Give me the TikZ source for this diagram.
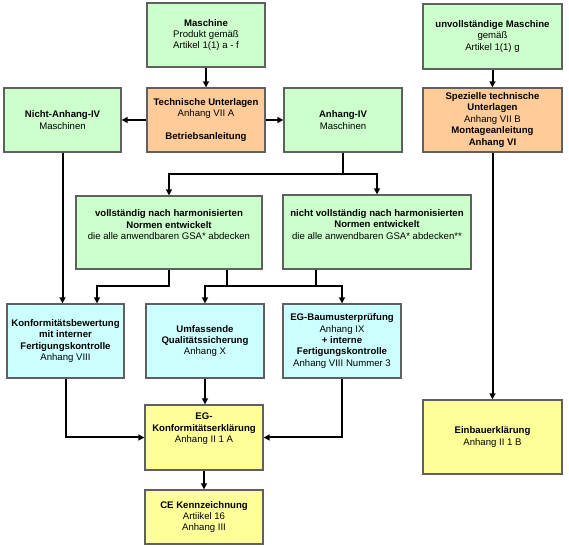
\documentclass[tikz,border=0pt]{standalone}
\usepackage{fontspec}
\setmainfont{Liberation Sans}
\usetikzlibrary{arrows.meta,calc}
\definecolor{cgreen}{HTML}{CCFFCC}
\definecolor{corange}{HTML}{FFCC99}
\definecolor{ccyan}{HTML}{CCFFFF}
\definecolor{cyellow}{HTML}{FFFF99}
\definecolor{cborder}{HTML}{606060}
\begin{document}
\begin{tikzpicture}[x=0.75pt,y=-0.75pt,
  box/.style={draw=cborder,line width=1pt,align=center,inner sep=1pt,
    font=\fontsize{7.2}{8.6}\selectfont},
  gbox/.style={box,fill=cgreen},
  obox/.style={box,fill=corange},
  cbox/.style={box,fill=ccyan},
  ybox/.style={box,fill=cyellow},
  conn/.style={line width=1.5pt,black},
  arr/.style={conn,-{Triangle[length=4.5pt,width=4.5pt]}}]
\useasboundingbox (0,0) rectangle (569,548);
% row 1
\node[gbox,minimum width=88.5pt,minimum height=48pt] (masch) at (206,35)
  {\textbf{Maschine}\\Produkt gemäß\\Artikel 1(1) a - f};
\node[gbox,minimum width=104.25pt,minimum height=48.75pt] (unv) at (492.5,36.5)
  {\textbf{unvollständige Maschine}\\gemäß\\Artikel 1(1) g};
% row 2
\node[obox,minimum width=88.5pt,minimum height=48pt] (tech) at (206,120)
  {\textbf{Technische Unterlagen}\\Anhang VII A\\[8.6pt]\textbf{Betriebsanleitung}};
\node[gbox,minimum width=87.75pt,minimum height=48pt] (nicht) at (62.5,120)
  {\textbf{Nicht-Anhang-IV}\\Maschinen};
\node[gbox,minimum width=88.5pt,minimum height=48pt] (anh) at (343,120)
  {\textbf{Anhang-IV}\\Maschinen};
\node[obox,minimum width=104.25pt,minimum height=48pt] (spez) at (492.5,120)
  {\textbf{Spezielle technische}\\\textbf{Unterlagen}\\Anhang VII B\\\textbf{Montageanleitung}\\\textbf{Anhang VI}};
% row 3
\node[gbox,minimum width=139.5pt,minimum height=54.75pt] (voll) at (169,232.5)
  {\textbf{vollständig nach harmonisierten}\\\textbf{Normen entwickelt}\\die alle anwendbaren GSA* abdecken\\[3pt]};
\node[gbox,minimum width=141pt,minimum height=55.5pt] (nvoll) at (377,232)
  {\textbf{nicht vollständig nach harmonisierten}\\\textbf{Normen entwickelt}\\die alle anwendbaren GSA* abdecken**\\[3pt]};
% row 4
\node[cbox,minimum width=87.75pt,minimum height=55.5pt] (konf) at (65.5,341)
  {\textbf{Konformitätsbewertung}\\\textbf{mit interner}\\\textbf{Fertigungskontrolle}\\Anhang VIII};
\node[cbox,minimum width=88.5pt,minimum height=55.5pt] (umf) at (205,341)
  {\textbf{Umfassende}\\\textbf{Qualitätssicherung}\\Anhang X};
\node[cbox,minimum width=88.5pt,minimum height=55.5pt] (egb) at (342,341)
  {\textbf{EG-Baumusterprüfung}\\Anhang IX\\\textbf{+ interne}\\\textbf{Fertigungskontrolle}\\Anhang VIII Nummer 3};
% row 5
\node[ybox,minimum width=88.5pt,minimum height=48.75pt] (egk) at (204,437.5)
  {\textbf{EG-}\\\textbf{Konformitätserklärung}\\Anhang II 1 A\\[6pt]};
\node[ybox,minimum width=104.25pt,minimum height=55.5pt] (einb) at (492.5,437)
  {\textbf{Einbauerklärung}\\Anhang II 1 B};
\node[ybox,minimum width=88.5pt,minimum height=40.5pt] (ce) at (204,517)
  {\textbf{CE Kennzeichnung}\\Artiikel 16\\Anhang III};
% connectors
\draw[arr] (masch) -- (tech);
\draw[arr] (tech.west) -- (nicht.east);
\draw[arr] (tech.east) -- (anh.west);
\draw[arr] (unv) -- (spez);
\draw[arr] (spez.south) -- (einb.north);
\coordinate (j1) at (343,174);
\draw[conn] (anh.south) -- (j1);
\draw[arr] (j1) -| (voll.north);
\draw[arr] (j1) -| (nvoll.north);
\draw[arr] (nicht.south) -- (nicht.south |- konf.north);
\coordinate (k1) at (97,286);
\draw[arr] (voll.south) |- (k1) -- (k1 |- konf.north);
\coordinate (h1) at (227,286);
\draw[conn] (voll.south -| h1) -- (h1);
\coordinate (h2) at (316,286);
\draw[conn] (nvoll.south -| h2) -- (h2);
\draw[arr] (h1) -| (umf.north);
\draw[arr] (h1) -| (egb.north);
\draw[arr] (konf.south) |- (egk.west);
\draw[arr] (egb.south) |- (egk.east);
\draw[arr] (umf.south) -- (umf.south |- egk.north);
\draw[arr] (egk) -- (ce);
\end{tikzpicture}
\end{document}
